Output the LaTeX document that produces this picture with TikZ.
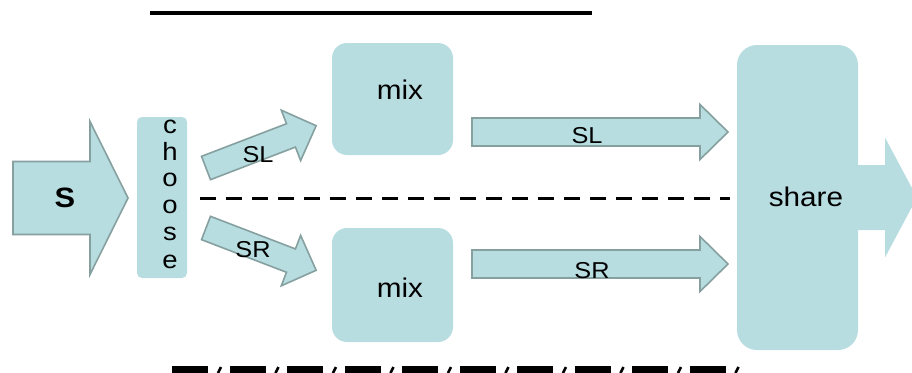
\documentclass[tikz,border=0pt]{standalone}
\usepackage{fontspec}
\setmainfont{Liberation Sans}[FakeStretch=1.1]
\definecolor{boxfill}{HTML}{B7DDE1}
\definecolor{arrline}{HTML}{86A0A0}
\newcommand\blkarrow[8]{%
  % #1 style, #2 x, #3 y, #4 angle, #5 length, #6 shaft half width, #7 head half width, #8 head length
  \begin{scope}[shift={(#2,#3)},rotate=#4]
    \path[#1] (0,-#6) -- ({#5-#8},-#6) -- ({#5-#8},-#7) -- (#5,0) -- ({#5-#8},#7) -- ({#5-#8},#6) -- (0,#6) -- cycle;
  \end{scope}}
\begin{document}
\begin{tikzpicture}[x=1pt,y=-1pt,
  arr/.style={fill=boxfill,draw=arrline,line width=1.6pt,line join=miter},
  plainarr/.style={fill=boxfill},
  softbox/.style={fill=boxfill,draw=none,inner sep=0pt},
  lbl/.style={inner sep=0pt,anchor=base,font=\fontsize{27}{29}\selectfont},
  small/.style={inner sep=0pt,anchor=base,font=\fontsize{23}{25}\selectfont},
  solidline/.style={line width=4pt,black},
  dashline/.style={line width=3pt,black,dash pattern=on 16pt off 10pt}]
\useasboundingbox (0,0) rectangle (912,372);
\clip (0,0) rectangle (912,372);

% top rule
\coordinate (t1) at (150,13);
\coordinate (t2) at (592,13);
\draw[solidline] (t1) -- (t2);

% boxes
\path[softbox,rounded corners=5pt] (137,117) rectangle (187,278);
\node[inner sep=0pt,minimum width=50pt,minimum height=161pt] (choose) at (162,197.5) {};
\path[softbox,rounded corners=15pt] (332,43) rectangle (453,155);
\node[inner sep=0pt,minimum width=121pt,minimum height=112pt] (mixA) at (392.5,99) {};
\path[softbox,rounded corners=15pt] (332,228) rectangle (453,342);
\node[inner sep=0pt,minimum width=121pt,minimum height=114pt] (mixB) at (392.5,285) {};
\path[softbox,rounded corners=20pt] (737,45) rectangle (858,350);
\node[inner sep=0pt,minimum width=121pt,minimum height=305pt] (share) at (797.5,197.5) {};

% block arrows
\blkarrow{arr}{13}{198}{0}{115}{36.5}{76.5}{38}
\blkarrow{arr}{206}{168}{21}{118}{12.5}{27}{27}
\blkarrow{arr}{206}{228}{-21}{118}{12.5}{27}{27}
\blkarrow{arr}{472}{132}{0}{256}{14}{27.5}{28}
\blkarrow{arr}{472}{264}{0}{256}{14}{27.5}{28}
\blkarrow{plainarr}{855}{197.5}{0}{62}{32.5}{60}{32}

% dashed divider
\coordinate (d1) at (200,198);
\coordinate (d2) at (730,198);
\draw[dashline] (d1) -- (d2);

% texts
\node[inner sep=0pt,anchor=base,font=\fontsize{28}{30}\selectfont\bfseries] (S) at (65,207) {S};
\foreach \ch/\yy [count=\i] in {c/133,h/160,o/186,o/213,s/240,e/268}
  \node[lbl,font=\fontsize{25}{27}\selectfont] (ch\i) at (170,\yy) {\ch};
\node[lbl] (mixAt) at (400,99) {mix};
\node[lbl] (mixBt) at (400,297) {mix};
\node[lbl] (sharet) at (806,206.5) {share};
\node[small] (sl1) at (258,162) {SL};
\node[small] (sr1) at (253,257) {SR};
\node[small] (sl2) at (587,143) {SL};
\node[small] (sr2) at (592,278) {SR};

% cut-off row at the bottom
\foreach \i in {0,...,9} {
  \fill[black] ({172+57.5*\i},366) rectangle ({208+57.5*\i},373);
  \draw[black,line width=2.5pt] ({218+57.5*\i},373) -- ({221+57.5*\i},367);
}
\end{tikzpicture}
\end{document}
